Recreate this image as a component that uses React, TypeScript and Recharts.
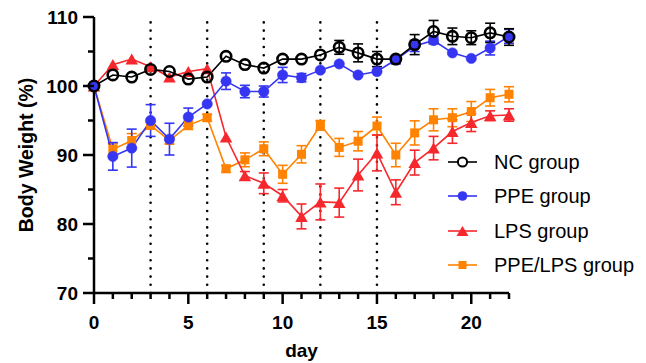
import React from 'react';
import { LineChart, Line, XAxis, YAxis, ErrorBar, ReferenceLine } from 'recharts';

const DAYS = [0, 1, 2, 3, 4, 5, 6, 7, 8, 9, 10, 11, 12, 13, 14, 15, 16, 17, 18, 19, 20, 21, 22];
const X_TICKS = DAYS;
const Y_TICKS = [70, 75, 80, 85, 90, 95, 100, 105, 110];
const TREATMENT_DAYS = [3, 6, 9, 12, 15];

const NC = [100, 101.6, 101.3, 102.4, 102.1, 101.0, 101.3, 104.3, 103.1, 102.6, 103.9, 103.9, 104.5, 105.6, 104.8, 103.9, 103.9, 106.0, 107.9, 107.2, 107.0, 107.7, 107.1];
const NC_ERR = [0, 0, 0, 0, 0, 0, 0, 0, 0, 0, 0, 0, 0, 1.0, 1.3, 1.1, 0, 1.45, 1.6, 1.2, 1.0, 1.4, 1.2];

const PPE = [100, 89.8, 91.0, 95.0, 92.3, 95.5, 97.4, 100.7, 99.2, 99.2, 101.6, 101.2, 102.3, 103.2, 101.6, 102.1, 103.8, 105.8, 106.6, 104.8, 104.0, 105.5, 107.2];
const PPE_ERR = [0, 2.0, 2.75, 2.3, 2.3, 1.3, 0, 1.2, 0.9, 0.8, 1.1, 0.6, 0, 0, 0, 0, 0.6, 0.8, 0.5, 0, 0, 1.0, 1.0];

const LPS = [100, 103.1, 103.9, 102.8, 101.3, 102.1, 102.5, 92.6, 87.0, 85.9, 84.1, 81.1, 83.2, 83.1, 87.1, 90.3, 84.6, 88.9, 91.0, 93.4, 94.7, 95.7, 95.8];
const LPS_ERR = [0, 0, 0, 0, 0, 0, 0, 0, 0.6, 1.5, 0.9, 1.8, 2.6, 2.1, 2.3, 2.6, 1.8, 1.8, 1.7, 1.7, 1.3, 0.7, 0.9];

const PPE_LPS = [100, 90.8, 92.1, 94.3, 92.1, 94.3, 95.4, 88.0, 89.3, 90.9, 87.2, 90.1, 94.3, 91.1, 92.0, 94.2, 90.0, 93.2, 95.1, 95.4, 96.3, 98.3, 98.8];
const PPE_LPS_ERR = [0, 0.8, 1.0, 0.5, 0.5, 0.6, 0.5, 0.5, 1.0, 1.0, 1.3, 1.25, 0.7, 1.3, 1.4, 1.3, 1.7, 1.75, 1.6, 1.3, 1.45, 1.2, 1.1];

const SERIES_NAMES = ['NC group', 'PPE group', 'LPS group', 'PPE/LPS group'];
const X_LABEL = 'day';
const Y_LABEL = 'Body Weight (%)';

const BLACK = '#000000';
const BLUE = '#3535f2';
const RED = '#f5282d';
const ORANGE = '#ff8200';
const FONT = '"Liberation Sans", Arial, Helvetica, sans-serif';

const data = DAYS.map((d, i) => ({
  day: d,
  nc: NC[i],
  ncErr: NC_ERR[i],
  ppe: PPE[i],
  ppeErr: PPE_ERR[i],
  lps: LPS[i],
  lpsErr: LPS_ERR[i],
  ppeLps: PPE_LPS[i],
  ppeLpsErr: PPE_LPS_ERR[i],
}));

const XTick = (props: any) => {
  const { x, y, payload } = props;
  const v = payload.value;
  const major = v % 5 === 0;
  return (
    <g>
      <line x1={x} y1={y} x2={x} y2={y + (major ? 11 : 6)} stroke={BLACK} strokeWidth={2.5} />
      {major && (
        <text x={x} y={y + 35.5} textAnchor="middle" fontFamily={FONT} fontWeight="bold" fontSize={19} fill={BLACK}>
          {v}
        </text>
      )}
    </g>
  );
};

const YTick = (props: any) => {
  const { x, y, payload } = props;
  const v = payload.value;
  const major = v % 10 === 0;
  return (
    <g>
      <line x1={x} y1={y} x2={x - (major ? 11 : 6)} y2={y} stroke={BLACK} strokeWidth={2.5} />
      {major && (
        <text x={x - 16} y={y} dy="0.36em" textAnchor="end" fontFamily={FONT} fontWeight="bold" fontSize={19} fill={BLACK}>
          {v}
        </text>
      )}
    </g>
  );
};

const Triangle = (props: any) => {
  const { cx, cy, index } = props;
  if (cx == null || cy == null) return <g key={`t-${index}`} />;
  const w = 12.5;
  const h = 11;
  const pts = `${cx - w / 2},${cy + h / 2} ${cx + w / 2},${cy + h / 2} ${cx},${cy - h / 2}`;
  return <polygon key={`t-${index}`} points={pts} fill={RED} />;
};

const Square = (props: any) => {
  const { cx, cy, index } = props;
  if (cx == null || cy == null) return <g key={`s-${index}`} />;
  const s = 9;
  return <rect key={`s-${index}`} x={cx - s / 2} y={cy - s / 2} width={s} height={s} fill={ORANGE} />;
};

const legendItems = [
  { name: SERIES_NAMES[0], color: BLACK, marker: 'open' },
  { name: SERIES_NAMES[1], color: BLUE, marker: 'circle' },
  { name: SERIES_NAMES[2], color: RED, marker: 'triangle' },
  { name: SERIES_NAMES[3], color: ORANGE, marker: 'square' },
];

const LegendIcon = ({ color, marker }: { color: string; marker: string }) => (
  <svg width={34} height={24} style={{ display: 'block' }}>
    <line x1={2} y1={12} x2={31} y2={12} stroke={color} strokeWidth={1.6} />
    {marker === 'open' && <circle cx={16.5} cy={12} r={4.6} fill="#fff" stroke={color} strokeWidth={2} />}
    {marker === 'circle' && <circle cx={16.5} cy={12} r={4.8} fill={color} />}
    {marker === 'triangle' && <polygon points="10.5,17 22.5,17 16.5,7" fill={color} />}
    {marker === 'square' && <rect x={12.5} y={8} width={8} height={8} fill={color} />}
  </svg>
);

const YLabel = (props: any) => {
  const vb = props.viewBox || { x: 0, y: 17, width: 94, height: 276 };
  const cx = vb.x + 26;
  const cy = vb.y + vb.height / 2;
  return (
    <text x={cx} y={cy} dy="0.36em" transform={`rotate(-90 ${cx} ${cy})`} textAnchor="middle" fontFamily={FONT} fontWeight="bold" fontSize={19.5} fill={BLACK}>
      {Y_LABEL}
    </text>
  );
};

const XLabel = (props: any) => {
  const vb = props.viewBox || { x: 94, y: 293, width: 414, height: 70 };
  const cx = vb.x + vb.width / 2;
  return (
    <text x={cx} y={vb.y + 64} textAnchor="middle" fontFamily={FONT} fontWeight="bold" fontSize={19} fill={BLACK}>
      {X_LABEL}
    </text>
  );
};

export default function App() {
  return (
    <div style={{ position: 'absolute', left: 0, top: 0, width: 646, height: 363, background: '#fff' }}>
      <LineChart width={646} height={363} data={data} margin={{ top: 17, right: 137, bottom: 0, left: 0 }}>
        <XAxis
          type="number"
          dataKey="day"
          domain={[0, 22]}
          ticks={X_TICKS}
          interval={0}
          tickSize={0}
          tickMargin={0}
          tickLine={false}
          tick={XTick}
          axisLine={{ stroke: BLACK, strokeWidth: 2.5 }}
          height={70}
          label={XLabel}
        />
        <YAxis
          type="number"
          domain={[70, 110]}
          ticks={Y_TICKS}
          interval={0}
          tickSize={0}
          tickMargin={0}
          tickLine={false}
          tick={YTick}
          axisLine={{ stroke: BLACK, strokeWidth: 2.5 }}
          width={94}
          label={YLabel}
        />
        {TREATMENT_DAYS.map((d) => (
          <ReferenceLine
            key={`ref-${d}`}
            x={d}
            stroke={BLACK}
            strokeWidth={2.6}
            strokeDasharray="0 8.2"
            strokeLinecap="round"
          />
        ))}
        <Line
          type="linear"
          dataKey="ppeLps"
          stroke={ORANGE}
          strokeWidth={1.6}
          dot={Square}
          activeDot={false}
          isAnimationActive={false}
        >
          <ErrorBar dataKey="ppeLpsErr" width={5} stroke={ORANGE} strokeWidth={1.6} direction="y" />
        </Line>
        <Line
          type="linear"
          dataKey="lps"
          stroke={RED}
          strokeWidth={1.6}
          dot={Triangle}
          activeDot={false}
          isAnimationActive={false}
        >
          <ErrorBar dataKey="lpsErr" width={5} stroke={RED} strokeWidth={1.6} direction="y" />
        </Line>
        <Line
          type="linear"
          dataKey="ppe"
          stroke={BLUE}
          strokeWidth={1.6}
          dot={{ r: 5.2, fill: BLUE, stroke: BLUE, strokeWidth: 0.5 }}
          activeDot={false}
          isAnimationActive={false}
        >
          <ErrorBar dataKey="ppeErr" width={5} stroke={BLUE} strokeWidth={1.6} direction="y" />
        </Line>
        <Line
          type="linear"
          dataKey="nc"
          stroke={BLACK}
          strokeWidth={1.6}
          dot={{ r: 5.2, fill: 'none', stroke: BLACK, strokeWidth: 2.6 }}
          activeDot={false}
          isAnimationActive={false}
        >
          <ErrorBar dataKey="ncErr" width={5} stroke={BLACK} strokeWidth={1.6} direction="y" />
        </Line>
      </LineChart>
      {legendItems.map((it, i) => {
        const cy = 161.5 + i * 34.5;
        return (
          <div key={it.name} style={{ position: 'absolute', left: 446, top: cy - 12, height: 24, display: 'flex', alignItems: 'center' }}>
            <LegendIcon color={it.color} marker={it.marker} />
            <span style={{ position: 'absolute', left: 48, top: 0, lineHeight: '24px', fontFamily: FONT, fontSize: 20, color: BLACK, whiteSpace: 'nowrap' }}>
              {it.name}
            </span>
          </div>
        );
      })}
    </div>
  );
}
